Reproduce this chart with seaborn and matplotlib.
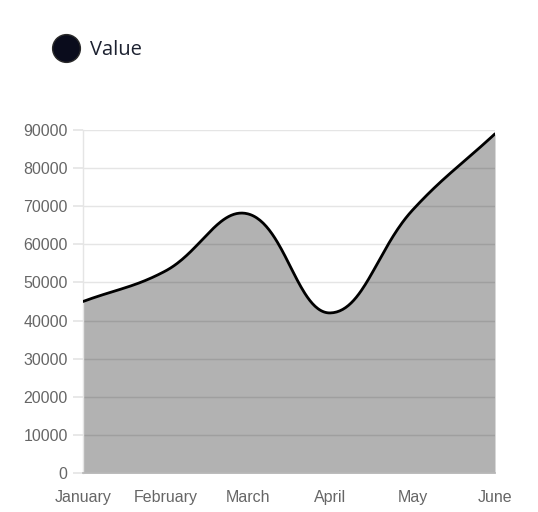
import numpy as np
import matplotlib
matplotlib.use("Agg")
import matplotlib.pyplot as plt
from matplotlib.lines import Line2D
import seaborn as sns

months = ["January", "February", "March", "April", "May", "June"]
values = [45000, 53000, 68000, 42000, 69000, 89000]
yticks = [0, 10000, 20000, 30000, 40000, 50000, 60000, 70000, 80000, 90000]

sns.set_theme(style="white")
plt.rcParams['font.family'] = ['Liberation Sans', 'DejaVu Sans']

W, H = 538, 512
fig = plt.figure(figsize=(W / 100, H / 100), dpi=100)
L, R, T, B = 83, 495, 130, 473
ax = fig.add_axes([L / W, 1 - B / H, (R - L) / W, (B - T) / H])

# Chart.js-like spline (tension 0.4) computed in pixel-scaled space
xs = np.arange(len(values), dtype=float)
ys = np.array(values, dtype=float)
sx = (R - L) / (len(values) - 1)
sy = (B - T) / 90000.0
px, py = xs * sx, ys * sy
t = 0.4
n = len(px)
cp_prev = np.zeros((n, 2))
cp_next = np.zeros((n, 2))
for i in range(n):
    pr = (px[max(i - 1, 0)], py[max(i - 1, 0)])
    cu = (px[i], py[i])
    nx = (px[min(i + 1, n - 1)], py[min(i + 1, n - 1)])
    d01 = np.hypot(cu[0] - pr[0], cu[1] - pr[1])
    d12 = np.hypot(nx[0] - cu[0], nx[1] - cu[1])
    tot = d01 + d12
    s01 = d01 / tot if tot else 0
    s12 = d12 / tot if tot else 0
    fa, fb = t * s01, t * s12
    cp_prev[i] = (cu[0] - fa * (nx[0] - pr[0]), cu[1] - fa * (nx[1] - pr[1]))
    cp_next[i] = (cu[0] + fb * (nx[0] - pr[0]), cu[1] + fb * (nx[1] - pr[1]))
cp_prev[:, 1] = np.clip(cp_prev[:, 1], 0, 90000 * sy)
cp_next[:, 1] = np.clip(cp_next[:, 1], 0, 90000 * sy)

curve_x, curve_y = [], []
tt = np.linspace(0, 1, 60)
for i in range(n - 1):
    P0 = np.array([px[i], py[i]]); P1 = cp_next[i]; P2 = cp_prev[i + 1]; P3 = np.array([px[i + 1], py[i + 1]])
    for u in tt[:-1] if i < n - 2 else tt:
        p = (1 - u) ** 3 * P0 + 3 * (1 - u) ** 2 * u * P1 + 3 * (1 - u) * u ** 2 * P2 + u ** 3 * P3
        curve_x.append(p[0] / sx)
        curve_y.append(p[1] / sy)
curve_x = np.array(curve_x); curve_y = np.array(curve_y)

# grid
for v in yticks:
    ax.axhline(v, color="#e5e5e5", lw=1.0, zorder=0)
ax.fill_between(curve_x, 0, curve_y, color="black", alpha=0.3, lw=0, zorder=1)
sns.lineplot(x=curve_x, y=curve_y, color="black", lw=2.0, ax=ax, zorder=3, sort=False)

ax.set_xlim(0, len(values) - 1)
ax.set_ylim(0, 90000)
ax.set_xticks(xs)
ax.set_xticklabels(months)
ax.set_yticks(yticks)
ax.set_yticklabels([str(v) for v in yticks])
for s in ["top", "right"]:
    ax.spines[s].set_visible(False)
ax.spines["left"].set_color("#e5e5e5")
ax.spines["bottom"].set_color("#b8b8b8")
ax.spines["left"].set_linewidth(1.0)
ax.tick_params(axis="y", length=7, color="#e5e5e5", pad=4, labelsize=11.5, labelcolor="#666666", left=True)
ax.tick_params(axis="x", length=0, pad=12, labelsize=11.5, labelcolor="#666666")
ax.set_xlabel(""); ax.set_ylabel("")
ax.set_facecolor("white")

# legend
fig.add_artist(Line2D([66 / W], [1 - 48 / H], marker="o", markersize=20, markerfacecolor="#0a0c1c",
                      markeredgecolor="#2a2a2a", markeredgewidth=1.0, transform=fig.transFigure, linestyle="none"))
fig.text(90 / W, 1 - 50 / H, "Value", ha="left", va="center", fontsize=14.5, color="#1c2130",
         family=["Open Sans", "DejaVu Sans"])

fig.savefig("out.png", dpi=100)
